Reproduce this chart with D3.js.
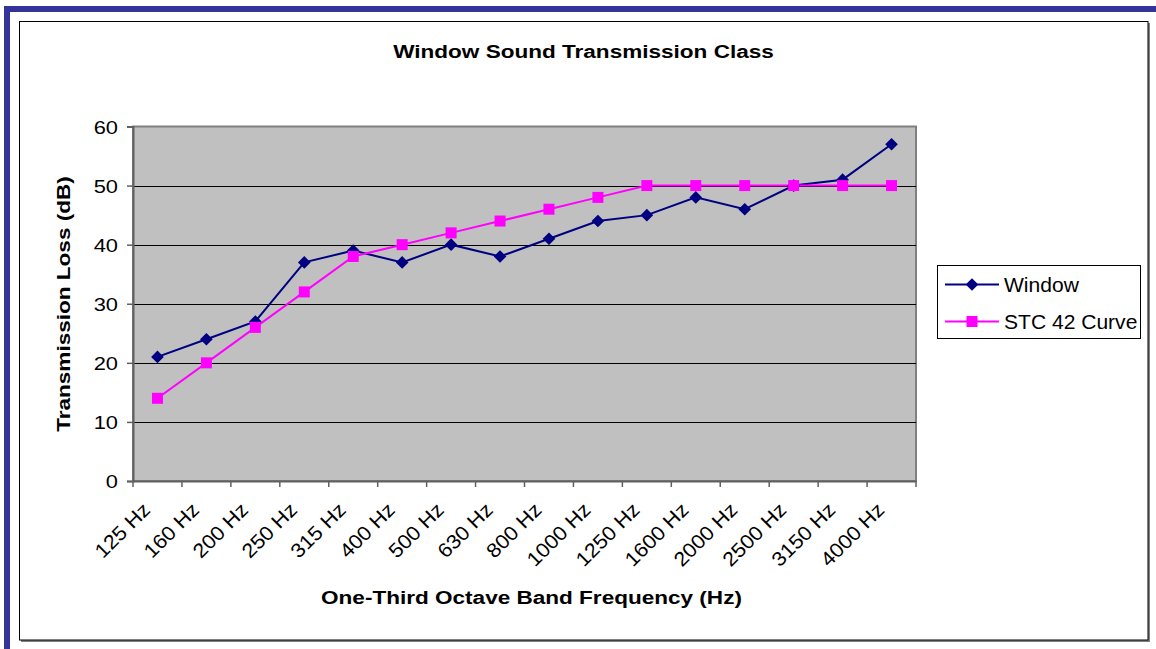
<!DOCTYPE html>
<html>
<head>
<meta charset="utf-8">
<script src="https://cdn.jsdelivr.net/npm/d3@7"></script>
<style>
  html, body { margin: 0; padding: 0; background: #fff; }
  svg { display: block; font-family: "Liberation Sans", Arial, sans-serif; }
</style>
</head>
<body>
<svg id="chart" width="1156" height="649"></svg>
<script>
const categories = ["125 Hz","160 Hz","200 Hz","250 Hz","315 Hz","400 Hz","500 Hz","630 Hz","800 Hz","1000 Hz","1250 Hz","1600 Hz","2000 Hz","2500 Hz","3150 Hz","4000 Hz"];
const windowValues = [21, 24, 27, 37, 39, 37, 40, 38, 41, 44, 45, 48, 46, 50, 51, 57];
const stcValues    = [14, 20, 26, 32, 38, 40, 42, 44, 46, 48, 50, 50, 50, 50, 50, 50];
const yTicks = [0, 10, 20, 30, 40, 50, 60];
const seriesNames = ["Window", "STC 42 Curve"];
const seriesColors = ["#000080", "#FF00FF"];
const titleText = "Window Sound Transmission Class";
const xTitle = "One-Third Octave Band Frequency (Hz)";
const yTitle = "Transmission Loss (dB)";

const svg = d3.select("#chart");

// page decoration: blue bars
svg.append("rect").attr("x", 4).attr("y", 6).attr("width", 1152).attr("height", 6).attr("fill", "#333399");
svg.append("rect").attr("x", 4).attr("y", 6).attr("width", 6).attr("height", 643).attr("fill", "#333399");

// chart frame with shadow
svg.append("rect").attr("x", 21).attr("y", 23).attr("width", 1129).attr("height", 619).attr("fill", "#808080");
svg.append("rect").attr("x", 19.5).attr("y", 21.5).attr("width", 1128.5).attr("height", 618.5)
  .attr("fill", "#fff").attr("stroke", "#000").attr("stroke-width", 1);

const plot = { left: 133, right: 916, top: 126.5, bottom: 481 };

const x = d3.scaleBand().domain(categories).range([plot.left, plot.right]).padding(0);
const y = d3.scaleLinear().domain([0, 60]).range([plot.bottom, plot.top]);

// plot area
svg.append("rect").attr("x", plot.left).attr("y", plot.top)
  .attr("width", plot.right - plot.left).attr("height", plot.bottom - plot.top)
  .attr("fill", "#C0C0C0").attr("stroke", "#808080").attr("stroke-width", 2);

// gridlines
svg.append("g").selectAll("line").data(yTicks.filter(d => d > 0 && d < 60)).join("line")
  .attr("x1", plot.left).attr("x2", plot.right)
  .attr("y1", d => Math.round(y(d)) + 0.5).attr("y2", d => Math.round(y(d)) + 0.5)
  .attr("stroke", "#000").attr("stroke-width", 1);

// y axis
const yAxis = d3.axisLeft(y).tickValues(yTicks).tickSize(6).tickFormat(d3.format("d"));
const gy = svg.append("g").attr("transform", `translate(${plot.left},0)`).call(yAxis);
gy.select(".domain").attr("stroke", "#606060").attr("stroke-width", 2);
gy.selectAll(".tick line").attr("stroke", "#606060").attr("stroke-width", 1.5);
gy.selectAll(".tick text").remove();
gy.selectAll(".tick").append("g")
  .attr("transform", `translate(-15,0) scale(1.15,1)`)
  .append("text")
  .attr("text-anchor", "end").attr("dy", "0.36em")
  .attr("font-size", 19).attr("fill", "#000")
  .text(d => d);

// x axis
const xAxis = d3.axisBottom(x).tickSize(0).tickFormat("");
const gx = svg.append("g").attr("transform", `translate(0,${plot.bottom})`).call(xAxis);
gx.select(".domain").attr("stroke", "#606060").attr("stroke-width", 2);
const bounds = categories.map(c => x(c)).concat([x(categories[categories.length - 1]) + x.bandwidth()]);
gx.append("g").selectAll("line").data(bounds).join("line")
  .attr("x1", d => d).attr("x2", d => d).attr("y1", 0).attr("y2", 6)
  .attr("stroke", "#606060").attr("stroke-width", 1.5);
gx.append("g").selectAll("g").data(categories).join("g")
  .attr("transform", d => `translate(${x(d) + x.bandwidth() / 2 - 6},${30}) rotate(-45) scale(1.08,1)`)
  .append("text")
  .attr("text-anchor", "end").attr("font-size", 20).attr("fill", "#000")
  .text(d => d);

// lines and markers
const series = [windowValues, stcValues];
const line = d3.line().x((d, i) => x(categories[i]) + x.bandwidth() / 2).y(d => y(d));
series.forEach((vals, si) => {
  svg.append("path").datum(vals).attr("d", line)
    .attr("fill", "none").attr("stroke", seriesColors[si]).attr("stroke-width", 2);
});
const diamond = d3.symbol().type(d3.symbolSquare).size(80);
svg.append("g").selectAll("path").data(windowValues).join("path")
  .attr("d", diamond())
  .attr("transform", (d, i) => `translate(${x(categories[i]) + x.bandwidth() / 2},${y(d)}) rotate(45)`)
  .attr("fill", seriesColors[0]);
svg.append("g").selectAll("rect").data(stcValues).join("rect")
  .attr("x", (d, i) => x(categories[i]) + x.bandwidth() / 2 - 5.5)
  .attr("y", d => y(d) - 5.5)
  .attr("width", 11).attr("height", 11)
  .attr("fill", seriesColors[1]);

// title
svg.append("g").attr("transform", `translate(583.5,58) scale(1.2,1)`)
  .append("text").attr("text-anchor", "middle").attr("font-size", 18.8).attr("font-weight", "bold")
  .text(titleText);

// x title
svg.append("g").attr("transform", `translate(531.5,604) scale(1.2,1)`)
  .append("text").attr("text-anchor", "middle").attr("font-size", 18.8).attr("font-weight", "bold")
  .text(xTitle);

// y title
svg.append("g").attr("transform", `translate(70,304) rotate(-90) scale(1.2,1)`)
  .append("text").attr("text-anchor", "middle").attr("font-size", 18.8).attr("font-weight", "bold")
  .text(yTitle);

// legend
const lg = svg.append("g");
lg.append("rect").attr("x", 937.5).attr("y", 265.5).attr("width", 203).attr("height", 73)
  .attr("fill", "#fff").attr("stroke", "#000").attr("stroke-width", 1);
const legendY = [284.5, 321.5];
seriesNames.forEach((name, i) => {
  const g = lg.append("g").attr("transform", `translate(0,${legendY[i]})`);
  g.append("line").attr("x1", 945).attr("x2", 999).attr("y1", 0).attr("y2", 0)
    .attr("stroke", seriesColors[i]).attr("stroke-width", 2);
  if (i === 0) {
    g.append("path").attr("d", diamond()).attr("transform", "translate(972,0) rotate(45)").attr("fill", seriesColors[i]);
  } else {
    g.append("rect").attr("x", 966.5).attr("y", -5.5).attr("width", 11).attr("height", 11).attr("fill", seriesColors[i]);
  }
  g.append("g").attr("transform", `translate(1004,0) scale(1.08,1)`)
    .append("text").attr("dy", "0.36em").attr("font-size", 19.5).attr("fill", "#000").text(name);
});
</script>
</body>
</html>
